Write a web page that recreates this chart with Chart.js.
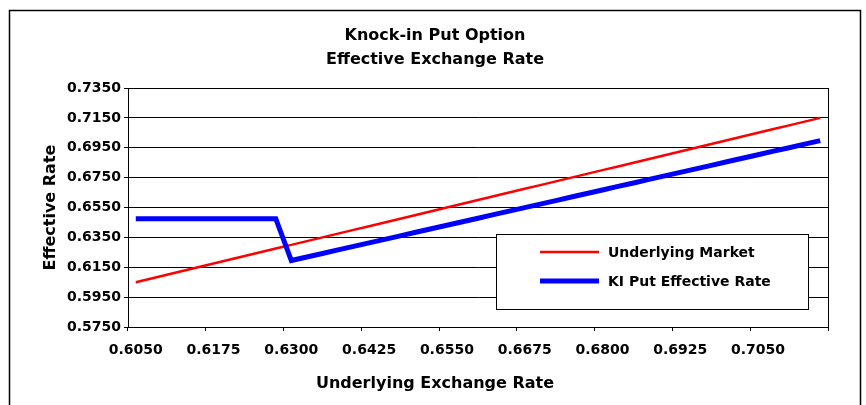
<!DOCTYPE html>
<html>
<head>
<meta charset="utf-8">
<title>Knock-in Put Option</title>
<script src="https://cdn.jsdelivr.net/npm/chart.js@4.4.1/dist/chart.umd.min.js"></script>
<style>
  html, body { margin: 0; padding: 0; background: #fff; }
  #wrap { width: 866px; height: 405px; }
</style>
</head>
<body>
<div id="wrap"><canvas id="myChart" width="866" height="405"></canvas></div>
<script>
// underlying exchange rate, one category every 0.0025
const rates = ['0.6050', '0.6075', '0.6100', '0.6125', '0.6150', '0.6175', '0.6200', '0.6225', '0.6250',
    '0.6275', '0.6300', '0.6325', '0.6350', '0.6375', '0.6400', '0.6425', '0.6450', '0.6475', '0.6500',
    '0.6525', '0.6550', '0.6575', '0.6600', '0.6625', '0.6650', '0.6675', '0.6700', '0.6725', '0.6750',
    '0.6775', '0.6800', '0.6825', '0.6850', '0.6875', '0.6900', '0.6925', '0.6950', '0.6975', '0.7000',
    '0.7025', '0.7050', '0.7075', '0.7100', '0.7125', '0.7150'];

const underlyingMarket = [0.6050, 0.6075, 0.6100, 0.6125, 0.6150, 0.6175, 0.6200, 0.6225, 0.6250,
    0.6275, 0.6300, 0.6325, 0.6350, 0.6375, 0.6400, 0.6425, 0.6450, 0.6475, 0.6500,
    0.6525, 0.6550, 0.6575, 0.6600, 0.6625, 0.6650, 0.6675, 0.6700, 0.6725, 0.6750,
    0.6775, 0.6800, 0.6825, 0.6850, 0.6875, 0.6900, 0.6925, 0.6950, 0.6975, 0.7000,
    0.7025, 0.7050, 0.7075, 0.7100, 0.7125, 0.7150];

const kiPutRate = [0.6475, 0.6475, 0.6475, 0.6475, 0.6475, 0.6475, 0.6475, 0.6475, 0.6475,
    0.6475, 0.6195, 0.6219, 0.6242, 0.6266, 0.6290, 0.6313, 0.6337, 0.6360, 0.6384,
    0.6408, 0.6431, 0.6455, 0.6478, 0.6502, 0.6526, 0.6549, 0.6573, 0.6596, 0.6620,
    0.6644, 0.6667, 0.6691, 0.6714, 0.6738, 0.6762, 0.6785, 0.6809, 0.6832, 0.6856,
    0.6880, 0.6903, 0.6927, 0.6950, 0.6974, 0.6998];

const xTickLabels = ['0.6050', '0.6175', '0.6300', '0.6425', '0.6550', '0.6675', '0.6800', '0.6925', '0.7050'];
const yTicks = [0.5750, 0.5950, 0.6150, 0.6350, 0.6550, 0.6750, 0.6950, 0.7150, 0.7350];

const FONT = '"DejaVu Sans"';
Chart.defaults.font.family = FONT;
Chart.defaults.color = '#000';

// outer frame, plot border, x axis title and the boxed legend
const decor = {
    id: 'decor',
    beforeDraw(chart) {
        const ctx = chart.ctx;
        ctx.save();
        ctx.strokeStyle = '#000';
        ctx.lineWidth = 1.5;
        ctx.strokeRect(9.5, 10.5, 851, 420);
        ctx.restore();
    },
    beforeDatasetsDraw(chart) {
        const {ctx, chartArea: a} = chart;
        ctx.save();
        ctx.strokeStyle = '#000';
        ctx.lineWidth = 1;
        ctx.strokeRect(Math.round(a.left) + 0.5, Math.round(a.top) + 0.5,
            Math.round(a.right - a.left), Math.round(a.bottom - a.top));
        ctx.restore();
    },
    afterDraw(chart) {
        const ctx = chart.ctx;
        ctx.save();
        ctx.fillStyle = '#000';
        ctx.font = 'bold 16px ' + FONT;
        ctx.textAlign = 'center';
        ctx.textBaseline = 'middle';
        ctx.fillText('Underlying Exchange Rate', 435, 384);

        // legend
        ctx.fillStyle = '#fff';
        ctx.fillRect(496.5, 234.5, 312, 75);
        ctx.strokeStyle = '#000';
        ctx.lineWidth = 1;
        ctx.strokeRect(496.5, 234.5, 312, 75);
        chart.data.datasets.forEach((ds, i) => {
            const y = 252 + i * 29;
            ctx.strokeStyle = ds.borderColor;
            ctx.lineWidth = ds.borderWidth;
            ctx.beginPath();
            ctx.moveTo(540, y);
            ctx.lineTo(599, y);
            ctx.stroke();
            ctx.fillStyle = '#000';
            ctx.font = 'bold 14px ' + FONT;
            ctx.textAlign = 'left';
            ctx.fillText(ds.label, 608, y + 1);
        });
        ctx.restore();
    }
};

new Chart(document.getElementById('myChart'), {
    type: 'line',
    data: {
        labels: rates,
        datasets: [{
            label: 'Underlying Market',
            data: underlyingMarket,
            borderColor: '#ff0000',
            borderWidth: 2.5,
            pointRadius: 0,
            tension: 0,
            order: 1
        }, {
            label: 'KI Put Effective Rate',
            data: kiPutRate,
            borderColor: '#0000ff',
            borderWidth: 5,
            pointRadius: 0,
            tension: 0,
            order: 0
        }]
    },
    options: {
        responsive: false,
        animation: false,
        layout: { padding: { top: 10, left: 10, right: 6, bottom: 0 } },
        plugins: {
            legend: { display: false },
            tooltip: { enabled: false },
            title: {
                display: true,
                text: ['Knock-in Put Option', 'Effective Exchange Rate'],
                color: '#000',
                font: { size: 16, weight: 'bold', lineHeight: 1.5 },
                padding: { top: 14, bottom: 16 }
            }
        },
        scales: {
            x: {
                offset: true,
                grid: {
                    offset: true,
                    drawOnChartArea: false,
                    drawTicks: true,
                    tickLength: 4,
                    tickColor: (c) => (c.index === undefined || xTickLabels.includes(rates[c.index])) ? '#000' : 'rgba(0,0,0,0)'
                },
                border: { color: '#000', width: 1 },
                ticks: {
                    autoSkip: false,
                    maxRotation: 0,
                    minRotation: 0,
                    padding: 11,
                    font: { size: 14, weight: 'bold' },
                    callback: function (v, i) {
                        const lab = rates[i];
                        return xTickLabels.includes(lab) ? lab : '';
                    }
                },
                afterFit: (s) => { s.height = 78; }
            },
            y: {
                min: 0.575,
                max: 0.735,
                grid: { color: '#000', lineWidth: 1, tickLength: 4 },
                border: { color: '#000', width: 1 },
                ticks: {
                    padding: 3,
                    font: { size: 14, weight: 'bold' },
                    callback: (v) => Number(v).toFixed(4)
                },
                afterBuildTicks: (s) => { s.ticks = yTicks.map(v => ({ value: v })); },
                title: {
                    display: true,
                    text: 'Effective Rate',
                    color: '#000',
                    font: { size: 16, weight: 'bold' },
                    padding: { top: 31, bottom: 0 }
                },
                afterFit: (s) => { s.width = 118; }
            },
            yRight: {
                type: 'linear',
                position: 'right',
                grid: { display: false },
                border: { display: false },
                ticks: { display: false },
                afterFit: (s) => { s.width = 32; }
            }
        }
    },
    plugins: [decor]
});
</script>
</body>
</html>
